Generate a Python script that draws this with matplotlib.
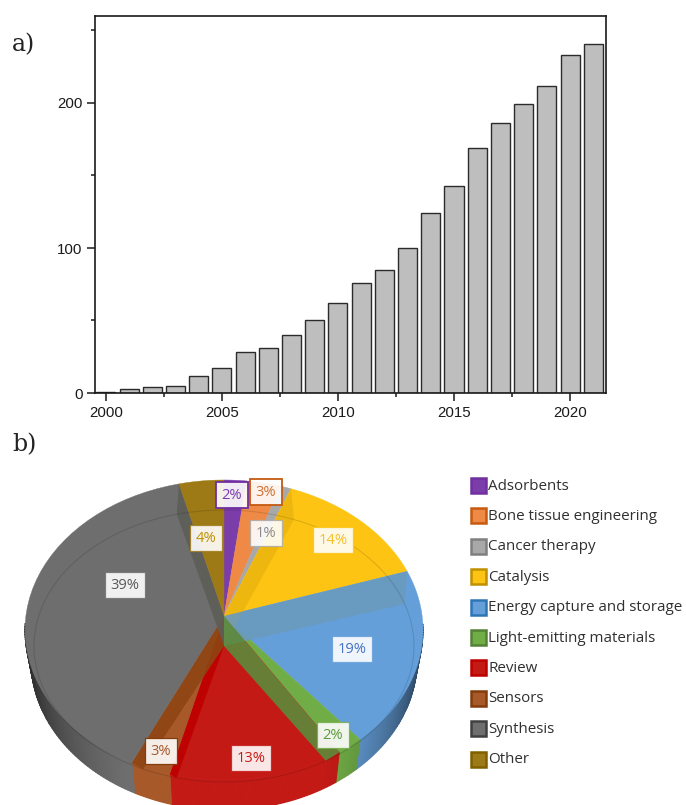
import numpy as np
import matplotlib
matplotlib.use('Agg')
import matplotlib.pyplot as plt
from matplotlib.patches import Rectangle

W, H = 686, 805

years = list(range(2000, 2022))
counts = [1, 3, 4, 5, 12, 17, 28, 31, 40, 50, 62, 76, 85, 100, 124, 143, 169, 186, 199, 212, 233, 241]

topics = ['Adsorbents', 'Bone tissue engineering', 'Cancer therapy', 'Catalysis',
          'Energy capture and storage', 'Light-emitting materials', 'Review',
          'Sensors', 'Synthesis', 'Other']
shares = [2, 3, 1, 14, 19, 2, 13, 3, 39, 4]

colors = ['#7A3DAA', '#EE8A45', '#A8A8A8', '#FDC414', '#659FD9', '#70AD47',
          '#C41A16', '#A8592A', '#6E6E6E', '#9E7A16']
legend_colors = ['#7030A0', '#C55A11', '#7F7F7F', '#BF9000', '#2E75B6', '#548235',
                 '#C00000', '#843C0C', '#404040', '#7F6000']
label_text = ['#7A3DAA', '#D07030', '#8A8A8A', '#F6C02C', '#4472C4', '#5C9A3A',
              '#C41A16', '#A5582A', '#595959', '#BF9000']
# wall seen through the top, at the end of each slice (None = not visible)
wall_colors = [None, None, '#EDB60F', '#6A9ABD', None, '#5C8A3A',
               '#BE0000', '#8E4513', '#5E5E58', None]
# label centres in pixels
label_pos = [(232, 495), (266, 492), (266, 533), (333, 540), (352, 649),
             (333, 735), (251, 758), (161, 751), (125, 585), (206, 538)]

fig = plt.figure(figsize=(W / 100, H / 100), dpi=100)


def px_axes(left, top, right, bottom):
    return fig.add_axes([left / W, 1 - bottom / H, (right - left) / W, (bottom - top) / H])


# a) bar chart
ax = px_axes(95, 16, 606, 393)
ax.bar(years, counts, width=0.82, color='#BEBEBE', edgecolor='#2b2b2b', linewidth=1.0)
ax.set_xlim(1999.53, 2021.55)
ax.set_ylim(0, 260)
ax.set_xticks([2000, 2005, 2010, 2015, 2020])
ax.set_xticks(np.arange(2002.5, 2021, 5), minor=True)
ax.set_yticks([0, 100, 200])
ax.set_yticks([50, 150, 250], minor=True)
ax.tick_params(which='major', length=6, width=1.1, labelsize=10.8, colors='#1a1a1a', pad=3)
ax.tick_params(which='minor', length=3, width=1.1, colors='#1a1a1a')
for lab in ax.get_xticklabels() + ax.get_yticklabels():
    lab.set_family('Liberation Sans')
for s in ax.spines.values():
    s.set_linewidth(1.2)
    s.set_color('#1a1a1a')

# b) tilted pie, drawn in pixel coordinates
pa = fig.add_axes([0, 0, 1, 1], zorder=5)
pa.set_xlim(0, W)
pa.set_ylim(H, 0)
pa.axis('off')
pa.patch.set_alpha(0)

cx, cy_apex, cy_rim = 224, 616, 630
rx, ry = 199, 150
depth = 30
inner_rx, inner_ry = 190, 136
persp = (cy_rim - cy_apex) / ry


def rim(theta):
    # circle seen in perspective: apex sits above the centre of the ellipse
    s, c = np.sin(theta), np.cos(theta)
    d = 1 + persp * c
    return cx + rx * s * np.sqrt(1 - persp ** 2) / d, cy_rim - ry * (c + persp) / d


def inner_rim(theta):
    return cx + inner_rx * np.sin(theta), cy_apex + depth - inner_ry * np.cos(theta)


def shade(color, f):
    return tuple(np.clip(np.array(matplotlib.colors.to_rgb(color)) * f, 0, 1))


edges = np.radians(np.cumsum([0] + shares) * 3.6)

# side of the pie
for i in range(len(shares)):
    t = np.arange(edges[i], edges[i + 1] + 1e-6, np.radians(1))
    t = np.append(t, edges[i + 1])
    for a, b in zip(t[:-1], t[1:]):
        mid = (a + b) / 2
        if np.cos(mid) > -0.05:
            continue
        xa, ya = rim(a)
        xb, yb = rim(b)
        f = min(1.0, 1.1 - 0.7 * abs(np.sin(mid)) ** 2.5)
        pa.fill([xa, xb, cx + (xb - cx) * 0.97, cx + (xa - cx) * 0.97],
                [ya, yb, yb + depth, ya + depth],
                color=shade(colors[i], f), lw=0.8, zorder=1)

# top face
for i in range(len(shares)):
    t = np.linspace(edges[i], edges[i + 1], 40)
    x, y = rim(t)
    pa.fill(np.r_[cx, x], np.r_[cy_apex, y], color=colors[i], lw=0.3, zorder=2)

# inner walls showing through
for i in range(len(shares)):
    if wall_colors[i] is None:
        continue
    th = edges[i + 1]
    x1, y1 = rim(th)
    x2, y2 = inner_rim(th)
    pa.fill([cx, x1, x2, cx], [cy_apex, y1, y2, cy_apex + depth],
            color=wall_colors[i], alpha=0.9, lw=0, zorder=3)

# lower rim seen through the top
t = np.linspace(0, 2 * np.pi, 300)
x, y = inner_rim(t)
pa.plot(x, y, color='k', alpha=0.12, lw=0.8, zorder=3)

# data labels
for i, (lx, ly) in enumerate(label_pos):
    edge = legend_colors[i] if i in (0, 1, 7) else matplotlib.colors.to_rgba(colors[i], 0.8)
    lw = 1.3 if i in (0, 1) else 0.9
    pa.text(lx, ly, f'{shares[i]}%', ha='center', va='center', fontsize=10.6,
            family='Open Sans', color=label_text[i], zorder=6,
            bbox=dict(boxstyle='square,pad=0.36', fc=(1, 1, 1, 0.9), ec=edge, lw=lw))

# legend
for i, name in enumerate(topics):
    ly = 485.5 + i * 30.4
    pa.add_patch(Rectangle((470.5, ly - 7.5), 15, 15, fc=colors[i], ec=legend_colors[i],
                           lw=1.8, zorder=6))
    pa.text(488, ly + 0.5, name, ha='left', va='center', fontsize=10.9,
            family='Open Sans', color='#303030', zorder=6)

# panel letters
pa.text(12, 45, 'a)', fontsize=17, family='DejaVu Serif', color='#222222', va='center', zorder=6)
pa.text(12, 445, 'b)', fontsize=17, family='DejaVu Serif', color='#222222', va='center', zorder=6)

fig.savefig('out.png', dpi=100)
